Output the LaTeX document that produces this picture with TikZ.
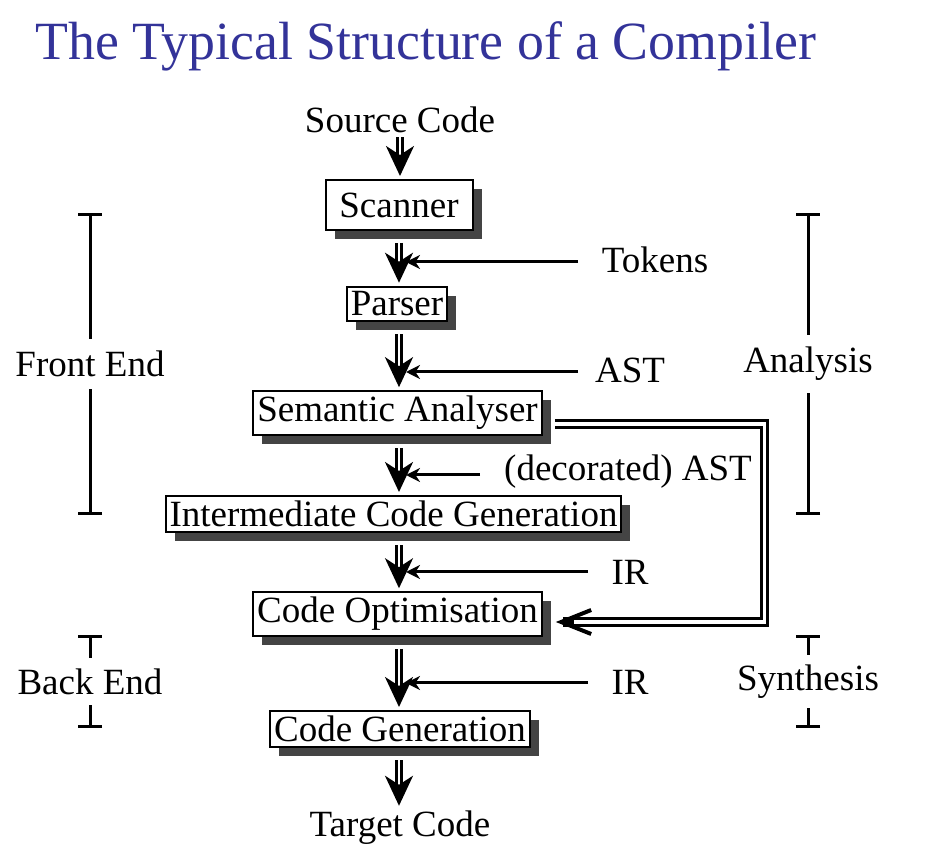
\documentclass[tikz,border=0pt]{standalone}
\usepackage{fontspec}
\setmainfont{Liberation Serif}
\usetikzlibrary{positioning,arrows.meta,calc,shadows}
\definecolor{ttl}{HTML}{333399}
\definecolor{shade}{HTML}{444444}
\tikzset{
  phase/.style={draw,line width=1pt,fill=white,inner xsep=2pt,inner ysep=2.5pt,font=\fontsize{18.5}{22}\selectfont,
    drop shadow={shadow xshift=4.5pt,shadow yshift=-4.5pt,fill=shade,opacity=1}},
  txt/.style={font=\fontsize{18.5}{22}\selectfont,inner sep=1pt},
  flow/.style={double,double distance=1.2pt,line width=1.3pt,shorten <=6pt,shorten >=1.5pt,
    -{Stealth[length=15pt,width=14pt,inset=4.5pt]}},
  feed/.style={line width=1.5pt,shorten >=3.5pt,-{Stealth[length=7pt,width=7pt]}},
  back/.style={line width=4.6pt,-{Straight Barb[length=15pt,width=12pt,line width=2pt]},
    postaction={draw=white,line width=1.6pt,-,shorten >=9pt}},
  brace/.style={line width=1.5pt,{Bar[width=12pt]}-{Bar[width=12pt]}},
  gap/.style={txt,fill=white,inner ysep=6pt},
}
\begin{document}
\begin{tikzpicture}[x=0.5pt,y=-0.5pt]
\useasboundingbox (0,0) rectangle (928,855);
\node[anchor=base west,font=\fontsize{26.9}{31}\selectfont,text=ttl,inner sep=0pt] (title) at (35,60) {The Typical Structure of a Compiler};

% the phases
\node[txt] (src) at (400,120) {Source Code};
\node[phase,minimum width=73.5pt,minimum height=25pt] (scan) at (399,205) {Scanner};
\node[phase] (pars) at (397,304) {Parser};
\node[phase] (sem) at (397.5,413) {Semantic Analyser};
\node[phase] (icg) at (393.5,514) {Intermediate Code Generation};
\node[phase] (opt) at (397.5,614) {Code Optimisation};
\node[phase] (gen) at (400,729) {Code Generation};
\node[txt] (tgt) at (400,828) {Target Code};

\draw[flow,shorten <=1pt] (src) -- (src |- scan.north);
\draw[flow] (scan.south) -- (scan.south |- pars.north);
\draw[flow] (scan.south |- pars.south) -- (scan.south |- sem.north);
\draw[flow] (scan.south |- sem.south) -- (scan.south |- icg.north);
\draw[flow] (scan.south |- icg.south) -- (scan.south |- opt.north);
\draw[flow] (scan.south |- opt.south) -- (scan.south |- gen.north);
\draw[flow] (scan.south |- gen.south) -- (scan.south |- tgt.north);

% what flows between them
\node[txt] (tok) at (655,260) {Tokens};
\node[txt] (ast) at (630,370) {AST};
\node[txt] (dast) at (628,472) {(decorated) AST};
\node[txt] (ir1) at (630,572) {IR};
\node[txt] (ir2) at (630,682) {IR};
\coordinate (tokS) at (578,262);
\coordinate (astS) at (578,372);
\coordinate (dastS) at (480,475);
\coordinate (ir1S) at (588,572);
\coordinate (ir2S) at (588,683);
\draw[feed] (tokS) -- (tokS -| scan.south);
\draw[feed] (astS) -- (astS -| scan.south);
\draw[feed] (dastS) -- (dastS -| scan.south);
\draw[feed] (ir1S) -- (ir1S -| scan.south);
\draw[feed] (ir2S) -- (ir2S -| scan.south);

\draw[back] ([shift={(12,11)}]sem.east) -- ++(210,0) |- ([shift={(13,8)}]opt.east);

% front/back end, analysis/synthesis
\draw[brace] (90,213) -- (90,515) node[midway,gap] (fe) {Front End};
\draw[brace] (90,635) -- (90,728) node[midway,gap,inner ysep=5pt] (be) {Back End};
\draw[brace] (808,213) -- (808,515) node[midway,gap] (an) {Analysis};
\draw[brace] (808,635) -- (808,728) node[midway,gap,inner ysep=5pt] (syn) {Synthesis};
\end{tikzpicture}
\end{document}
